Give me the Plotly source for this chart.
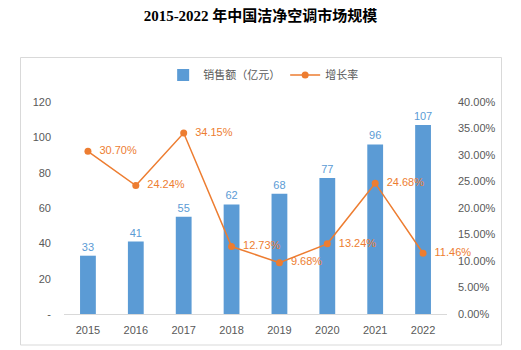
import plotly.graph_objects as go

years = ["2015", "2016", "2017", "2018", "2019", "2020", "2021", "2022"]
sales = [33, 41, 55, 62, 68, 77, 96, 107]
growth = [0.3070, 0.2424, 0.3415, 0.1273, 0.0968, 0.1324, 0.2468, 0.1146]
left_ticks = [0, 20, 40, 60, 80, 100, 120]
left_ticktext = ["-", "20", "40", "60", "80", "100", "120"]
right_ticks = [0, 0.05, 0.10, 0.15, 0.20, 0.25, 0.30, 0.35, 0.40]

BLUE = "#5B9BD5"
ORANGE = "#ED7D31"
GREY = "#595959"
FONT = "Liberation Sans, Noto Sans CJK SC, sans-serif"

fig = go.Figure()
fig.add_trace(go.Bar(
    x=years, y=sales, name="销售额（亿元）",
    marker=dict(color=BLUE, line=dict(width=0)),
    text=[str(v) for v in sales], textposition="outside",
    textfont=dict(color=BLUE, size=11, family=FONT),
    constraintext="none",
    cliponaxis=False,
))
fig.add_trace(go.Scatter(
    x=years, y=growth, name="增长率", yaxis="y2",
    mode="lines+markers+text",
    line=dict(color=ORANGE, width=1.5),
    marker=dict(color=ORANGE, size=7),
    text=[f"  {v*100:.2f}%" for v in growth], textposition="middle right",
    textfont=dict(color=ORANGE, size=11, family=FONT),
    cliponaxis=False,
))

L, R, T, B = 64, 74, 102, 36
W, H = 521, 350
pw, ph = W - L - R, H - T - B

def px(x):
    return (x - L) / pw

def py(y):
    return (H - B - y) / ph

fig.update_layout(
    width=W, height=H,
    margin=dict(l=L, r=R, t=T, b=B),
    paper_bgcolor="white", plot_bgcolor="white",
    font=dict(family=FONT, size=11, color=GREY),
    bargap=0.67,
    showlegend=True,
    legend=dict(orientation="h", x=0.52, xanchor="center", y=py(75), yanchor="middle",
                font=dict(size=11, color=GREY), itemwidth=30, traceorder="normal"),
    title=dict(text="<b>2015-2022 年中国洁净空调市场规模</b>", x=0.5, xanchor="center",
               y=1 - 16 / H, yanchor="middle",
               font=dict(family="Liberation Serif, Noto Sans CJK SC, serif", size=15, color="black")),
    xaxis=dict(showline=True, linecolor="#D9D9D9", linewidth=1, showgrid=False,
               ticks="", tickfont=dict(size=11, color=GREY), ticklabelstandoff=6),
    yaxis=dict(range=[0, 120], tickvals=left_ticks, ticktext=left_ticktext, showgrid=False,
               zeroline=False, showline=False, ticks="", tickfont=dict(size=11, color=GREY),
               ticklabelstandoff=12),
    yaxis2=dict(range=[0, 0.4], tickvals=right_ticks, tickformat=".2%", overlaying="y",
                side="right", showgrid=False, zeroline=False, showline=False, ticks="",
                tickfont=dict(size=11, color=GREY), ticklabelstandoff=10),
    shapes=[dict(type="rect", xref="paper", yref="paper",
                 x0=px(20.5), x1=px(501.5), y0=py(345), y1=py(57.5),
                 line=dict(color="#D9D9D9", width=1), fillcolor="rgba(0,0,0,0)", layer="below")],
)

fig.write_html("out.html")
